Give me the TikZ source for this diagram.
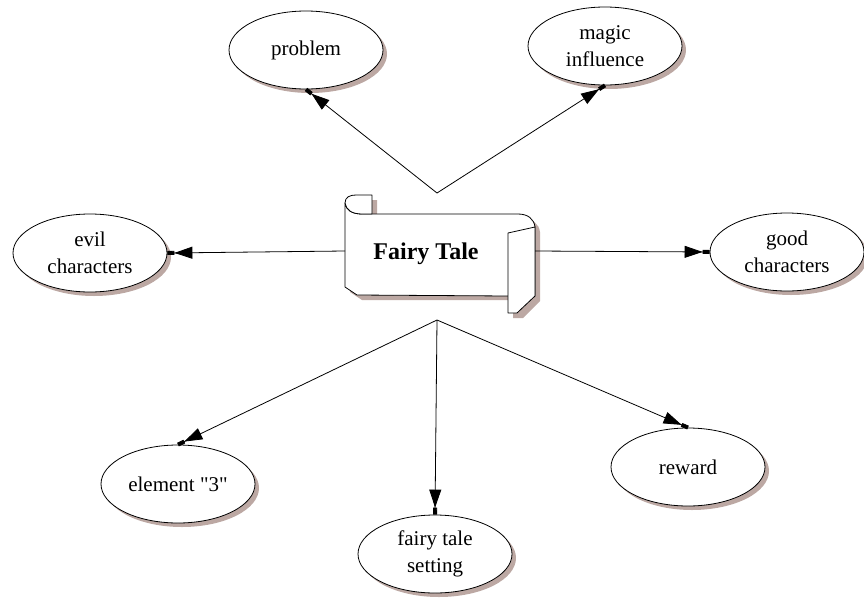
\documentclass[tikz,border=0pt]{standalone}
\usepackage{fontspec}
\setmainfont{Liberation Serif}
\newfontfamily\straightquotes{Liberation Serif}[Ligatures=TeXOff]
\usetikzlibrary{shapes.geometric,arrows.meta,shadows}
\definecolor{shadowc}{RGB}{188,168,163}
\tikzset{
  topic/.style={ellipse, draw=black, line width=0.8pt, fill=white,
    minimum width=154pt, minimum height=78pt, inner sep=0pt, align=center,
    font=\fontsize{21}{27}\selectfont,
    drop shadow={shadow xshift=4pt, shadow yshift=-4pt, fill=shadowc, opacity=1}},
  link/.style={line width=0.8pt,
    -{Triangle[length=18pt,width=12pt]Rectangle[length=7pt,width=4pt]}},
  scrollpart/.style={draw=black, line width=0.8pt, fill=white, line join=round}
}
\begin{document}
\begin{tikzpicture}[x=1pt,y=-1pt]
\useasboundingbox (0,0) rectangle (864,597);

% scroll: shadow, body, curl and rolled right end
\begin{scope}[shift={(5,5)}]
  \fill[shadowc] (345,203) .. controls (345,197) and (350,195) .. (356,195) -- (372,195) -- (372,214)
    -- (518,214) .. controls (528,214) and (534,219) .. (535,227) -- (535,296) -- (518,313) -- (508,313)
    -- (508,295) -- (357,295) -- (345,287) -- cycle;
\end{scope}
\path[scrollpart] (345,203) .. controls (346,210) and (352,214) .. (362,214) -- (518,214)
  .. controls (528,214) and (534,219) .. (535,227) -- (535,296) -- (508,296) -- (357,295)
  -- (345,287) -- cycle;
\path[scrollpart] (345,203) .. controls (345,197) and (350,195) .. (356,195) -- (372,195) -- (372,214)
  -- (362,214) .. controls (352,214) and (346,210) .. (345,203) -- cycle;
\path[scrollpart] (508,233) -- (535,227) -- (535,296) -- (517,313) -- (508,313) -- cycle;
\node[font=\fontsize{24}{28}\selectfont\bfseries] (ft) at (426,254) {Fairy Tale};

% attachment points on the scroll
\coordinate (ftL) at (345,251);
\coordinate (ftR) at (535,251);
\coordinate (ftT) at (437,193);
\coordinate (ftB) at (437,320);

% topics
\node[topic] (problem) at (306,50) {problem};
\node[topic] (magic) at (605,46) {magic\\influence};
\node[topic] (evil) at (90,253) {evil\\characters};
\node[topic] (good) at (787,252) {good\\characters};
\node[topic] (element) at (178,484) {{\straightquotes element "3"}};
\node[topic] (setting) at (435,554) {fairy tale\\setting};
\node[topic] (reward) at (688,467) {reward};

% connectors
\draw[link] (ftT) -- (problem.south);
\draw[link] (ftT) -- (magic.south);
\draw[link] (ftL) -- (evil.east);
\draw[link] (ftR) -- (good.west);
\draw[link] (ftB) -- (element.north);
\draw[link] (ftB) -- (setting.north);
\draw[link] (ftB) -- (reward.north);
\end{tikzpicture}
\end{document}
